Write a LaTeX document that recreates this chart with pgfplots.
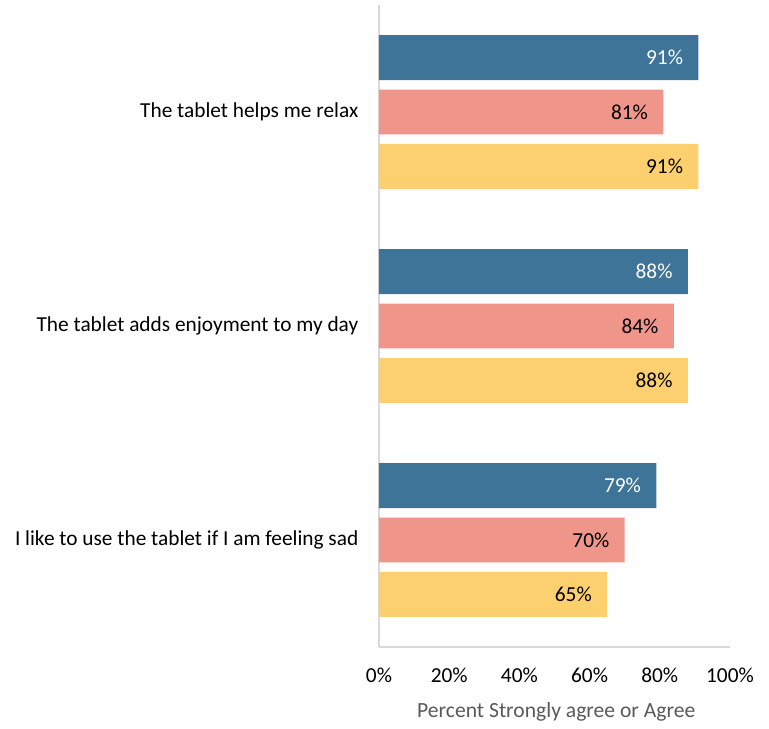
\documentclass[border=0pt]{standalone}
\usepackage{pgfplots}
\pgfplotsset{compat=1.18}
\usepackage{fontspec}
\setmainfont{Carlito}
\definecolor{cblue}{RGB}{62,116,151}
\definecolor{cpink}{RGB}{240,149,138}
\definecolor{cyellow}{RGB}{252,208,111}
\definecolor{cgrid}{RGB}{217,217,217}
\definecolor{ctitle}{RGB}{89,89,89}
\begin{document}
\begin{tikzpicture}
\path[use as bounding box] (0,0) rectangle (576.75pt,546.75pt);
\begin{axis}[
  at={(284.25pt,61.5pt)}, anchor=south west,
  scale only axis, width=263.25pt, height=481.5pt,
  xmin=0, xmax=100, ymin=-0.5, ymax=2.5,
  xbar, bar width=0.21,
  axis x line*=bottom, axis y line*=left,
  axis line style={cgrid, line width=1pt},
  major tick length=0pt,
  xtick={0,20,40,60,80,100},
  xticklabel={\pgfmathprintnumber{\tick}\%},
  ytick={0,1,2},
  yticklabels={I like to use the tablet if I am feeling sad, The tablet adds enjoyment to my day, The tablet helps me relax},
  tick label style={font=\fontsize{16}{19}\selectfont, black},
  /pgf/number format/assume math mode=true,
  xticklabel style={yshift=-12pt},
  yticklabel style={xshift=-12pt},
  xlabel={Percent Strongly agree or Agree},
  xlabel style={font=\fontsize{16.2}{19}\selectfont, text=ctitle, at={(axis description cs:0.505,0)}, anchor=center, yshift=-48.75pt},
  nodes near coords={\pgfmathprintnumber{\pgfplotspointmeta}\%},
  nodes near coords style={anchor=east, xshift=-8pt, font=\fontsize{16}{19}\selectfont},
  every node near coord/.append style={/pgf/number format/assume math mode=true},
]
\addplot[fill=cblue, draw=none, bar shift=0.254, every node near coord/.append style={white}] coordinates {(91,2) (88,1) (79,0)};
\addplot[fill=cpink, draw=none, bar shift=0, every node near coord/.append style={black}] coordinates {(81,2) (84,1) (70,0)};
\addplot[fill=cyellow, draw=none, bar shift=-0.254, every node near coord/.append style={black}] coordinates {(91,2) (88,1) (65,0)};
\end{axis}
\end{tikzpicture}
\end{document}
